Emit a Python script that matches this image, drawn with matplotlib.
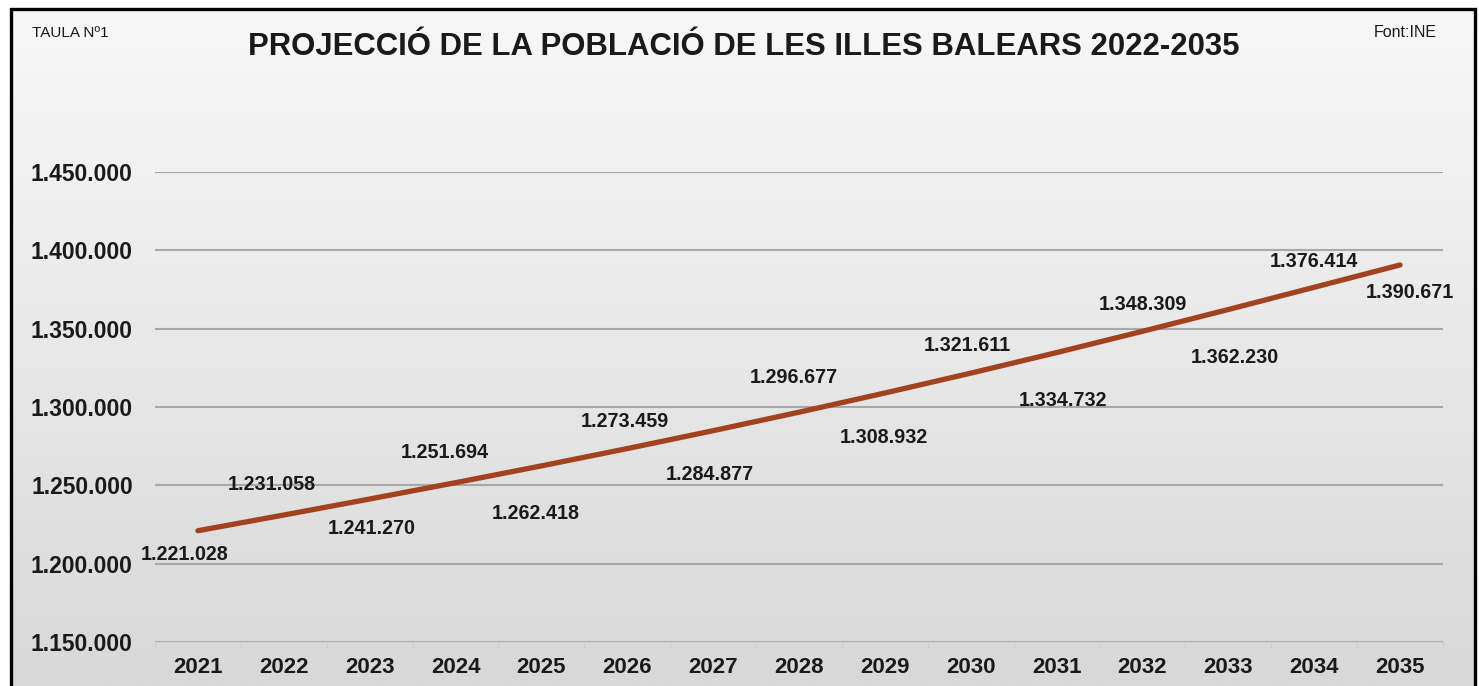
import numpy as np
import matplotlib.pyplot as plt
from matplotlib.patches import Rectangle
from matplotlib.colors import LinearSegmentedColormap

# dades
anys = ['2021', '2022', '2023', '2024', '2025', '2026', '2027', '2028',
        '2029', '2030', '2031', '2032', '2033', '2034', '2035']
poblacio = [1221028, 1231058, 1241270, 1251694, 1262418, 1273459, 1284877,
            1296677, 1308932, 1321611, 1334732, 1348309, 1362230, 1376414,
            1390671]
y_ticks = [1150000, 1200000, 1250000, 1300000, 1350000, 1400000, 1450000]

# desplaçament de les etiquetes (pixels, respecte al punt)
label_offsets = [(-13, -24), (-12, 31), (2, -29), (-11, 30), (-6, -48),
                 (-2, 27), (-3, -44), (-5, 35), (-1, -44), (-3, 28),
                 (6, -48), (0, 27), (6, -48), (0, 26), (10, -28)]


def fmt_punts(v):
    return f'{v:,.0f}'.replace(',', '.')


plt.rcParams['font.family'] = ['Liberation Sans', 'DejaVu Sans']

fig = plt.figure(figsize=(14.79, 6.86), dpi=100)
fig.patch.set_facecolor('white')

# fons amb degradat dins del marc
W, H = 1479, 686
x0, x1, y0, y1 = 11 / W, 1475 / W, 0.0, 1 - 9 / H
bg = fig.add_axes([x0, y0, x1 - x0, y1 - y0], zorder=0)
grad = np.linspace(0, 1, 256)[:, None]
bg.imshow(grad, aspect='auto', extent=[0, 1, 1, 0],
          cmap=LinearSegmentedColormap.from_list('g', ['#f8f8f8', '#d8d8d8']))
bg.axis('off')

# marc negre
fig.add_artist(Rectangle((x0, -0.01), x1 - x0, y1 + 0.01, transform=fig.transFigure,
                         fill=False, edgecolor='black', linewidth=2.4, zorder=5))

ax = fig.add_axes([155 / W, 1 - 642 / H, (1443 - 155) / W, (642 - 172) / H], zorder=1)
ax.set_facecolor('none')

x = np.arange(len(anys))
ax.plot(x, poblacio, color='#a2421f', linewidth=3.8, solid_capstyle='round', zorder=3)

for xi, v, (dx, dy) in zip(x, poblacio, label_offsets):
    ax.annotate(fmt_punts(v), (xi, v), xytext=(dx, dy), textcoords='offset pixels',
                ha='center', va='center', fontsize=14.2, fontweight='bold', color='#1a1a1a')

ax.set_xlim(-0.5, len(anys) - 0.5)
ax.set_ylim(y_ticks[0], y_ticks[-1])
ax.set_yticks(y_ticks)
ax.set_yticklabels([fmt_punts(t) for t in y_ticks], fontsize=16.5, fontweight='bold',
                   color='#1a1a1a')
ax.set_xticks(x)
ax.set_xticklabels(anys, fontsize=16, fontweight='bold', color='#1a1a1a')
ax.tick_params(axis='y', length=0, pad=16)
ax.tick_params(axis='x', length=0, pad=11)

# marques de separació de categories
ax.set_xticks(np.arange(-0.5, len(anys)), minor=True)
ax.tick_params(axis='x', which='minor', length=4, color='#cfcfcf', width=1)

ax.grid(axis='y', color='#a8a8a8', linewidth=1.5)
ax.grid(axis='x', visible=False)
ax.set_axisbelow(True)
for s in ['top', 'right', 'left']:
    ax.spines[s].set_visible(False)
ax.spines['bottom'].set_color('#d2d2d2')
ax.spines['bottom'].set_linewidth(1)

fig.text(744 / W, 1 - 55 / H, 'PROJECCIÓ DE LA POBLACIÓ DE LES ILLES BALEARS 2022-2035',
         ha='center', va='baseline', fontsize=22.4, fontweight='bold', color='#1a1a1a',
         zorder=6)
fig.text(32 / W, 1 - 37 / H, 'TAULA Nº1', ha='left', va='baseline', fontsize=11,
         color='#1a1a1a', zorder=6)
fig.text(1437 / W, 1 - 37 / H, 'Font:INE', ha='right', va='baseline', fontsize=11.5,
         color='#1a1a1a', zorder=6)

fig.savefig('out.png', dpi=100)
